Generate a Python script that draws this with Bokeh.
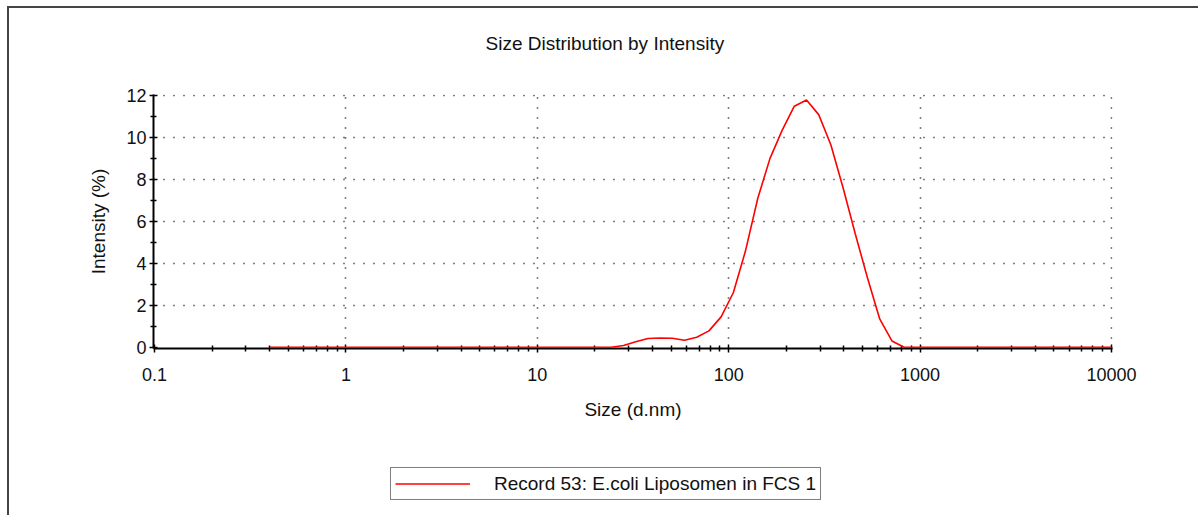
from bokeh.plotting import figure
from bokeh.layouts import column
from bokeh.models import Range1d, FixedTicker, Legend, LegendItem, Title, ColumnDataSource
from bokeh.embed import file_html
from bokeh.resources import INLINE

# ---- data ----
size_nm = [0.4, 0.4632, 0.5365, 0.6213, 0.7195, 0.8332, 0.9649, 1.117, 1.294, 1.499,
           1.736, 2.010, 2.328, 2.696, 3.122, 3.615, 4.187, 4.849, 5.615, 6.503,
           7.531, 8.721, 10.10, 11.70, 13.54, 15.69, 18.17, 21.04, 24.36, 28.21,
           32.67, 37.84, 43.82, 50.75, 58.77, 68.06, 78.82, 91.28, 105.7, 122.4,
           141.8, 164.2, 190.1, 220.2, 255.0, 295.3, 342.0, 396.1, 458.7, 531.2,
           615.1, 712.4, 825.0, 955.4, 1106, 1281, 1484, 1718, 1990, 2305,
           2669, 3091, 3580, 4145, 4801, 5560, 6439, 7456, 8635, 10000]
intensity_pct = [0, 0, 0, 0, 0, 0, 0, 0, 0, 0,
                 0, 0, 0, 0, 0, 0, 0, 0, 0, 0,
                 0, 0, 0, 0, 0, 0, 0, 0, 0, 0.08,
                 0.26, 0.42, 0.44, 0.43, 0.33, 0.48, 0.78, 1.45, 2.6, 4.6,
                 7.1, 9.0, 10.35, 11.5, 11.8, 11.1, 9.65, 7.6, 5.4, 3.3,
                 1.35, 0.3, 0, 0, 0, 0, 0, 0, 0, 0,
                 0, 0, 0, 0, 0, 0, 0, 0, 0, 0]
series_name = "Record 53: E.coli Liposomen in FCS 1"

x_major_ticks = [0.1, 1, 10, 100, 1000, 10000]
x_tick_labels = ["0.1", "1", "10", "100", "1000", "10000"]
x_minor_ticks = [m * d for d in [0.1, 1, 10, 100, 1000] for m in range(2, 10)]
y_major_ticks = [0, 2, 4, 6, 8, 10, 12]
y_minor_ticks = [1, 3, 5, 7, 9, 11]

FONT = "Liberation Sans"
OX, OY = 9, 8            # canvas offset caused by the outer window frame (margin + border)
LEFT = 153 - OX          # left border of the chart canvas (frames are aligned in the column)
TOP_H = 86 + 252 + 100   # height of the chart canvas
BOT_H = 515 - OY - TOP_H # height of the legend strip
FRAME = "2px solid #454545"

p = figure(frame_width=957, frame_height=252, x_axis_type="log",
           x_range=Range1d(0.0988, 10121), y_range=Range1d(-0.06, 12.06),
           output_backend="svg", toolbar_location=None,
           min_border_left=LEFT, min_border_right=88,
           min_border_top=94 - OY, min_border_bottom=100,
           margin=(6, 0, 0, 7),
           styles={"border-top": FRAME, "border-left": FRAME})
p.background_fill_color = "white"
p.border_fill_color = "white"
p.outline_line_color = None

# small spacer between the frame and the title (keeps the title high)
p.add_layout(Title(text=" ", text_font_size="1px", standoff=13), "above")
p.title = Title(text="Size Distribution by Intensity", align="left", offset=332,
                standoff=46, vertical_align="top", text_font=FONT, text_font_size="19px",
                text_font_style="normal", text_color="#111111")

src = ColumnDataSource(dict(x=size_nm, y=intensity_pct))
r = p.line("x", "y", source=src, line_color="#ff0000", line_width=1.6)
r.level = "overlay"

for ax in (p.xaxis[0], p.yaxis[0]):
    ax.axis_line_color = "black"
    ax.axis_line_width = 2
    ax.major_tick_line_color = "black"
    ax.minor_tick_line_color = "black"
    ax.major_tick_line_width = 1.5
    ax.minor_tick_line_width = 1.5
    ax.major_tick_in = 4
    ax.major_tick_out = 4
    ax.minor_tick_in = 3
    ax.minor_tick_out = 3
    ax.major_label_text_font = FONT
    ax.major_label_text_font_size = "18px"
    ax.major_label_text_color = "#111111"
    ax.axis_label_text_font = FONT
    ax.axis_label_text_font_size = "19px"
    ax.axis_label_text_font_style = "normal"
    ax.axis_label_text_color = "#111111"

p.xaxis.ticker = FixedTicker(ticks=x_major_ticks, minor_ticks=x_minor_ticks)
p.xaxis.major_label_overrides = dict(zip(x_major_ticks, x_tick_labels))
p.xaxis.axis_label = "Size (d.nm)"
p.xaxis.major_label_standoff = 15
p.xaxis.axis_label_standoff = 15

p.yaxis.ticker = FixedTicker(ticks=y_major_ticks, minor_ticks=y_minor_ticks)
p.yaxis.axis_label = "Intensity (%)"
p.yaxis.major_label_standoff = 3
p.yaxis.axis_label_standoff = 14

p.xgrid.ticker = FixedTicker(ticks=x_major_ticks[1:])
p.ygrid.ticker = FixedTicker(ticks=y_major_ticks[1:])
for g in (p.xgrid[0], p.ygrid[0]):
    g.grid_line_color = "black"
    g.grid_line_width = 1.6
    g.grid_line_dash = "1 9"

# ---- legend strip below the chart (same series, kept out of its view) ----
q = figure(width=1198 - OX, height=BOT_H, x_range=Range1d(0, 1), y_range=Range1d(100, 200),
           x_axis_location=None, y_axis_location=None,
           output_backend="svg", toolbar_location=None, min_border=0,
           margin=(0, 0, 0, 7), styles={"border-left": FRAME})
q.outline_line_color = None
q.background_fill_color = "white"
q.border_fill_color = "white"
q.grid.visible = False
r_leg = q.line("x", "y", source=src, line_color="#ff0000", line_width=1.6)

legend = Legend(items=[LegendItem(label=series_name, renderers=[r_leg])],
                location=(390 - OX - LEFT, BOT_H - (500 - TOP_H - OY)), orientation="vertical",
                padding=4, margin=0, spacing=0,
                glyph_width=75, glyph_height=23, label_height=23, label_standoff=24,
                label_text_font=FONT, label_text_font_size="19px", label_text_color="#111111",
                border_line_color="black", border_line_width=1.5,
                background_fill_color="white", background_fill_alpha=1)
q.add_layout(legend, "center")

layout = column(p, q, spacing=0)
open("out.html", "w").write(file_html(layout, INLINE))
